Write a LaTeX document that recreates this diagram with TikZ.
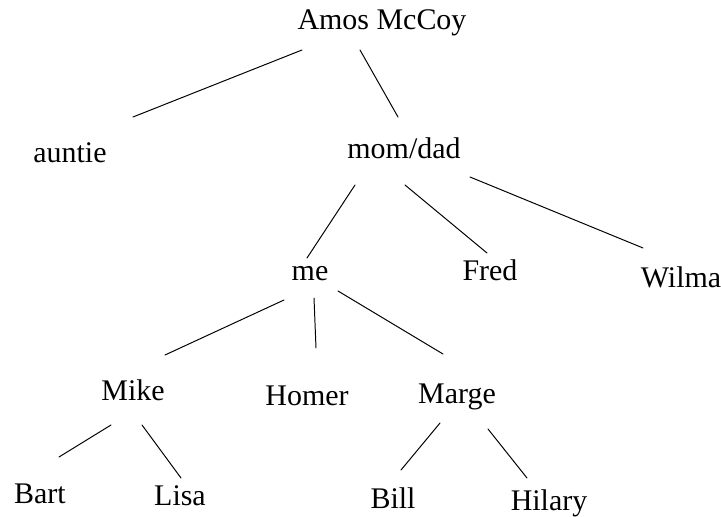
\documentclass[tikz,border=0pt]{standalone}
\usepackage{fontspec}
\setmainfont{Liberation Serif}
\usepackage{tikz}
\tikzset{person/.style={anchor=base,inner sep=0pt,font=\fontsize{21.3}{25.6}\selectfont},
  link/.style={line width=0.7pt}}

\begin{document}
\begin{tikzpicture}[line cap=round,line join=round,x=1.0cm,y=1.0cm]
			\clip(0,0) rectangle (18.025,12.9);
			\node[person] (amos) at (9.55,12.15) {Amos McCoy};
			\node[person] (auntie) at (1.75,8.825) {auntie};
			\node[person] (momdad) at (10.1,8.925) {mom/dad};
			\node[person] (me) at (7.75,5.9) {me};
			\node[person] (fred) at (12.25,5.9) {Fred};
			\node[person] (wilma) at (17.025,5.725) {Wilma};
			\node[person] (mike) at (3.325,2.9) {Mike};
			\node[person] (homer) at (7.675,2.775) {Homer};
			\node[person] (marge) at (11.425,2.825) {Marge};
			\node[person] (bart) at (1.0,0.325) {Bart};
			\node[person] (lisa) at (4.5,0.275) {Lisa};
			\node[person] (bill) at (9.825,0.2) {Bill};
			\node[person] (hilary) at (13.725,0.15) {Hilary};
			\draw [link] ([shift={(-2.0,-0.5)}]amos.base)-- ([shift={(1.575,1.15)}]auntie.base);
			\draw [link] ([shift={(-0.55,-0.5)}]amos.base)-- ([shift={(-0.15,1.05)}]momdad.base);
			\draw [link] ([shift={(-1.225,-0.65)}]momdad.base)-- ([shift={(-0.075,0.55)}]me.base);
			\draw [link] ([shift={(0.025,-0.65)}]momdad.base)-- ([shift={(-0.075,0.675)}]fred.base);
			\draw [link] ([shift={(1.65,-0.45)}]momdad.base)-- ([shift={(-0.95,0.975)}]wilma.base);
			\draw [link] ([shift={(-0.65,-0.5)}]me.base)-- ([shift={(0.8,1.125)}]mike.base);
			\draw [link] ([shift={(0.1,-0.45)}]me.base)-- ([shift={(0.225,1.425)}]homer.base);
			\draw [link] ([shift={(0.7,-0.275)}]me.base)-- ([shift={(-0.35,1.225)}]marge.base);
			\draw [link] ([shift={(-0.55,-0.625)}]mike.base)-- ([shift={(0.475,1.15)}]bart.base);
			\draw [link] ([shift={(0.225,-0.625)}]mike.base)-- ([shift={(0.025,0.675)}]lisa.base);
			\draw [link] ([shift={(-0.425,-0.5)}]marge.base)-- ([shift={(0.2,0.95)}]bill.base);
			\draw [link] ([shift={(0.775,-0.65)}]marge.base)-- ([shift={(-0.55,0.8)}]hilary.base);
		\end{tikzpicture}
\end{document}
